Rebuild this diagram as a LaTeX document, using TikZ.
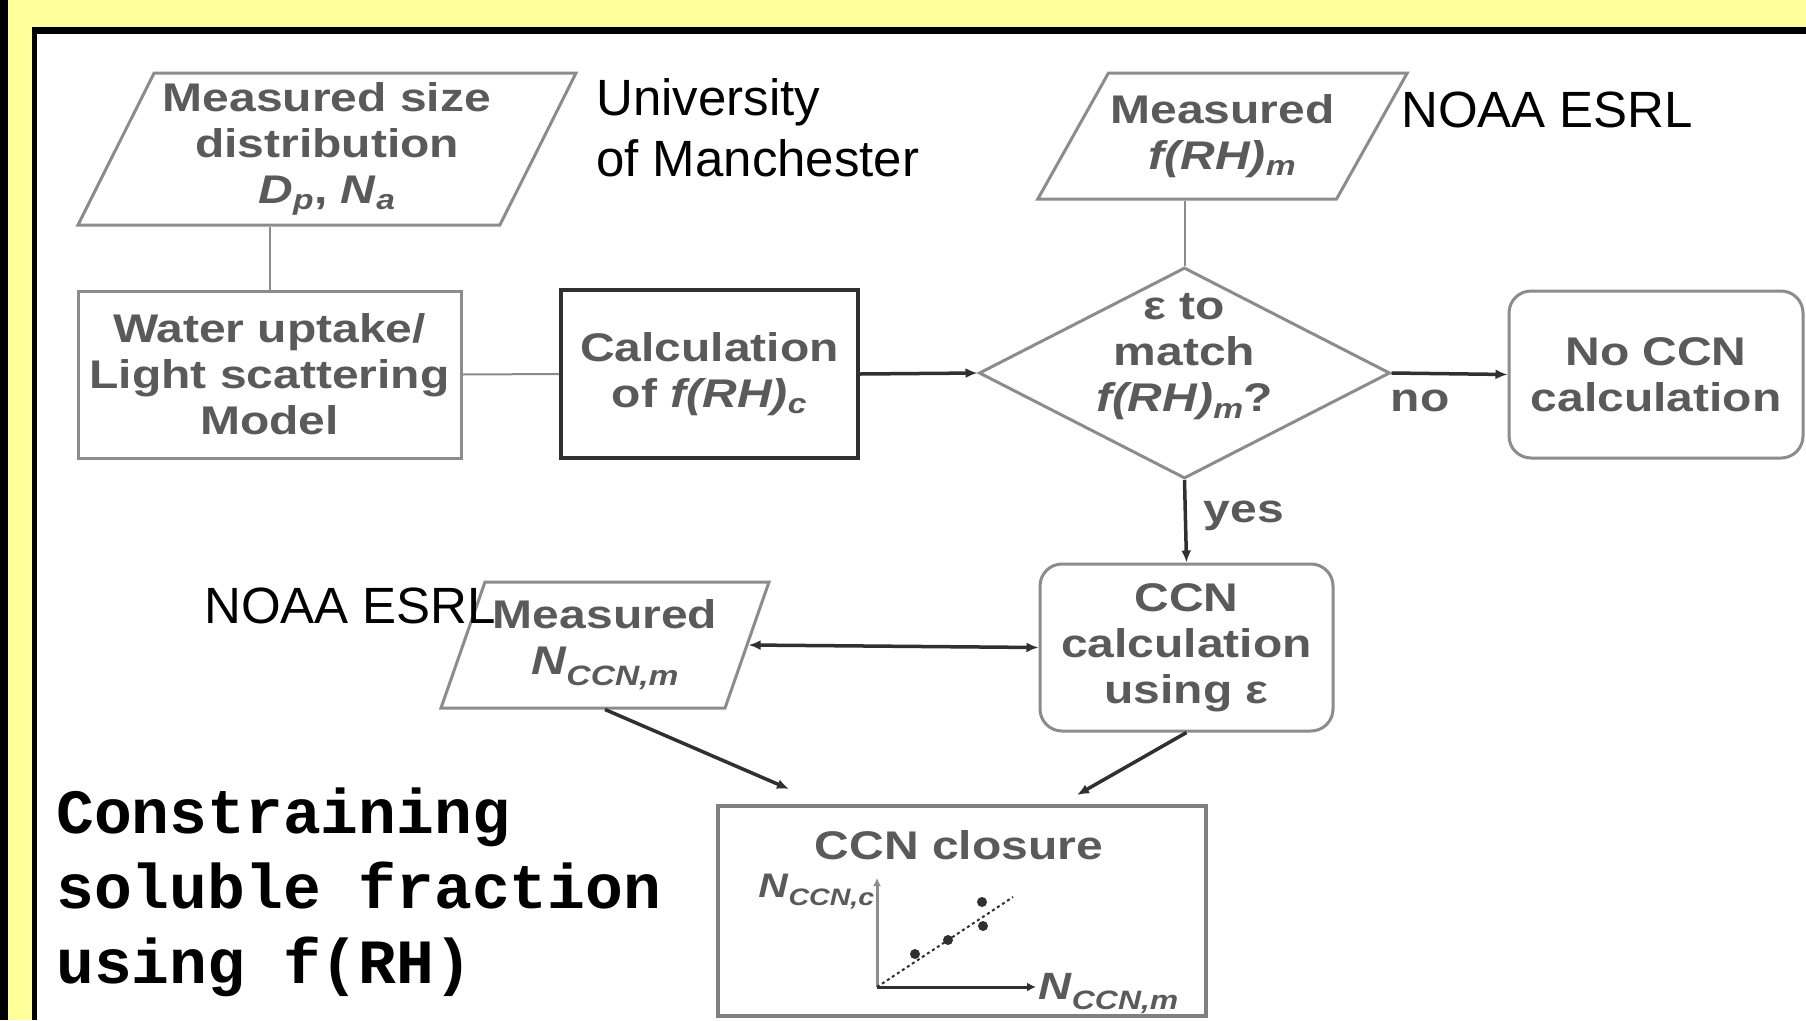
\documentclass[tikz,border=0pt]{standalone}
\usepackage{fontspec}
\setmainfont{Liberation Sans}
\newfontfamily\boxfont[FakeStretch=1.2]{Liberation Sans}
\newfontfamily\codefont{Liberation Mono}
\usepackage{tikz}
\usetikzlibrary{arrows.meta,positioning,shapes.geometric,calc}
\definecolor{posteryellow}{HTML}{FFFF99}
\definecolor{boxgray}{HTML}{8C8C8C}
\definecolor{textgray}{HTML}{5A5A5A}
\definecolor{linedark}{HTML}{303030}

\begin{document}
\begin{tikzpicture}[
    x=1pt, y=-1pt,
    >={Latex[length=12pt,width=10pt]},
    every node/.style={font=\boxfont\bfseries\fontsize{40}{46}\selectfont, text=textgray, align=center, inner sep=2pt},
    datain/.style={trapezium, trapezium left angle=#1, trapezium right angle=180-#1,
        trapezium stretches body, draw=boxgray, line width=3pt},
    datain/.default=65,
    process/.style={rectangle, draw=boxgray, line width=3pt},
    outcome/.style={rectangle, rounded corners=22pt, draw=boxgray, line width=3pt},
    decision/.style={diamond, aspect=1.95, draw=boxgray, line width=3pt, inner sep=0pt},
    thinline/.style={boxgray, line width=2pt},
    flow/.style={->, linedark, line width=3.5pt},
    source/.style={font=\fontsize{51}{61}\selectfont, text=black, align=left}
]
    % === POSTER FRAME ===
    \useasboundingbox (0,0) rectangle (1806,1020);
    \fill[posteryellow] (0,0) rectangle (1806,1020);
    \fill[black] (0,0) rectangle (8,1020);
    \fill[black] (32,27) rectangle (1806,1020);
    \fill[white] (37,34) rectangle (1806,1020);

    % === INPUT DATA ===
    \node[datain=61, minimum width=498pt, minimum height=152pt] (sizedist) at (327,149)
        {Measured size\\distribution\\\textit{D}\textsubscript{\textit{p}}, \textit{N}\textsubscript{\textit{a}}};
    \node[datain=51, minimum width=353pt, minimum height=126pt] (frhmeas) at (1222.5,136)
        {Measured\\\textit{f(RH)}\textsubscript{\textit{m}}};
    \node[datain, minimum width=328pt, minimum height=126pt] (ccnmeas) at (605,645)
        {Measured\\\textit{N}\textsubscript{\textit{CCN,m}}};

    % === PROCESSING STEPS ===
    \node[process, minimum width=383pt, minimum height=167pt] (uptake) at (269.5,374.5)
        {Water uptake/\\Light scattering\\Model};
    \node[process, draw=linedark, line width=4pt, minimum width=297pt, minimum height=168pt] (calcfrh) at (709.5,374)
        {Calculation\\of \textit{f(RH)}\textsubscript{\textit{c}}};
    \node[decision, minimum width=411pt, minimum height=211pt] (match) at (1184.5,373) {};
    \node (matchlabel) at ([yshift=16pt]match.center) {ε to\\match\\\textit{f(RH)}\textsubscript{\textit{m}}?};
    \node[outcome, minimum width=294pt, minimum height=167pt] (noccn) at (1656,374.5)
        {No CCN\\calculation};
    \node[outcome, minimum width=293pt, minimum height=167pt] (ccncalc) at (1186.5,647.5)
        {CCN\\calculation\\using ε};

    % === CLOSURE PLOT ===
    \node[process, draw=gray, line width=4pt, minimum width=488pt, minimum height=210pt] (closure) at (962,911) {};
    \node (closuretitle) at (959,845) {CCN closure};
    \coordinate (origin) at (877,987);
    \coordinate (ytop) at (877,878);
    \coordinate (xend) at (1036,987);
    \draw[boxgray, line width=3pt, -{Latex[length=8pt,width=8pt]}] (origin) -- (ytop);
    \draw[linedark, line width=3pt, -{Latex[length=9pt,width=9pt]}] (origin) -- (xend);
    \draw[linedark, line width=2pt, dashed] (origin) -- (1013,897);
    \foreach \px/\py in {915/954, 948/940, 983/926, 982/902}
        \fill[linedark] (\px,\py) circle (5pt);
    \node[anchor=east, font=\boxfont\bfseries\fontsize{34}{40}\selectfont] (ylab) at (ytop) [yshift=-14pt] {\textit{N}\textsubscript{\textit{CCN,c}}};
    \node[anchor=west, font=\boxfont\bfseries\fontsize{38}{44}\selectfont] (xlab) at (xend) [yshift=-6pt] {\textit{N}\textsubscript{\textit{CCN,m}}};

    % === CONNECTORS ===
    \coordinate (closurein1) at (789,789);
    \coordinate (closurein2) at (1077,795);
    \draw[thinline] (uptake.north) -- (uptake.north |- sizedist.south);
    \draw[thinline] (uptake.east) -- (calcfrh.west);
    \draw[flow] (calcfrh.east) -- (match.west);
    \draw[thinline] (match.north) -- (match.north |- frhmeas.south);
    \draw[flow] (match.east) -- (noccn.west);
    \node (nolabel) at (1420,401) {no};
    \draw[flow] (match.south) -- (ccncalc.north);
    \node (yeslabel) at (1244,516) {yes};
    \draw[flow, <->] (ccnmeas.east) -- (ccncalc.west);
    \draw[flow] (ccnmeas.south) -- (closurein1);
    \draw[flow] (ccncalc.south) -- (closurein2);

    % === SOURCES AND TITLE ===
    \node[source, anchor=north west] (manchester) at (594,76) {University\\of Manchester};
    \node[source, anchor=base west] (esrltop) at (1399,127) {NOAA ESRL};
    \node[source, anchor=base west] (esrlleft) at (202,623) {NOAA ESRL};
    \node[anchor=north west, font=\codefont\bfseries\fontsize{63}{75}\selectfont, text=black, align=left] (title) at (54,786)
        {Constraining\\soluble fraction\\using f(RH)};
\end{tikzpicture}
\end{document}
